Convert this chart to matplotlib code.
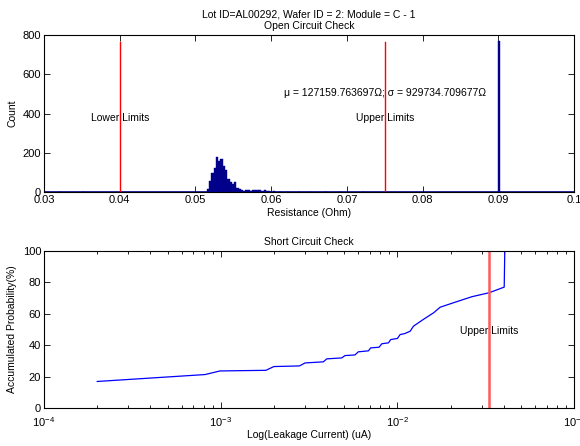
import numpy as np
import matplotlib
matplotlib.use("Agg")
import matplotlib.pyplot as plt
from matplotlib.ticker import LogLocator, NullFormatter

plt.rcParams['font.family'] = ['Liberation Sans', 'DejaVu Sans']

# Open circuit check histogram (bin left edges in Ohm, counts)
bin_width = 0.0003
bin_left = [0.0320, 0.0350, 0.0515, 0.0518, 0.0521, 0.0524, 0.0527, 0.0530,
            0.0533, 0.0536, 0.0539, 0.0542, 0.0545, 0.0548, 0.0551, 0.0554,
            0.0557, 0.0560, 0.0563, 0.0566, 0.0569, 0.0572, 0.0575, 0.0578,
            0.0581, 0.0584, 0.0587, 0.0590, 0.0593, 0.0596, 0.0602, 0.0610,
            0.0620, 0.0635, 0.0650, 0.0670, 0.0690, 0.0720, 0.0899]
counts = [2, 1, 15, 55, 95, 120, 178, 156,
          170, 131, 113, 64, 50, 42, 49, 20,
          15, 10, 6, 8, 8, 5, 8, 12,
          10, 8, 7, 8, 4, 3, 3, 2,
          2, 2, 1, 2, 1, 1, 770]
open_lower = 0.04
open_upper = 0.075
limit_height = 765
stats_text = "\u03bc = 127159.763697\u03a9; \u03c3 = 929734.709677\u03a9"

# Short circuit check cumulative curve
leak_current = [2.0e-4, 8.15e-4, 9.9e-4, 1.80e-3, 2.0e-3, 2.79e-3, 3.0e-3, 3.81e-3,
                3.98e-3, 4.84e-3, 5.05e-3, 5.75e-3, 6.01e-3, 6.85e-3, 7.06e-3, 7.87e-3,
                8.15e-3, 8.89e-3, 9.17e-3, 1.0e-2, 1.036e-2, 1.1e-2, 1.18e-2, 1.232e-2,
                1.40e-2, 1.60e-2, 1.745e-2, 2.07e-2, 2.64e-2, 3.3e-2, 4.02e-2, 4.05e-2]
accum_prob = [16.9, 21.3, 23.6, 24.0, 26.4, 26.8, 28.7, 29.4,
              31.3, 31.9, 33.4, 33.8, 35.8, 36.4, 38.3, 38.7,
              40.9, 41.5, 43.6, 44.3, 46.8, 47.4, 48.9, 52.1,
              56.4, 60.6, 64.2, 67.0, 70.9, 73.4, 77.0, 100.0]
short_upper = 0.033

fig = plt.figure(figsize=(5.8, 4.46), dpi=100)
ax1 = fig.add_axes([0.0759, 0.5695, 0.914, 0.352])
ax2 = fig.add_axes([0.0759, 0.0852, 0.914, 0.352])

navy = '#00008b'

# top: histogram
ax1.axhline(0, color=navy, lw=1.2, zorder=2)
ax1.bar(bin_left, counts, width=bin_width, align='edge', color=navy,
        edgecolor=navy, lw=0.3, zorder=3)
ax1.plot([open_lower, open_lower], [0, limit_height], color='red', lw=1)
ax1.plot([open_upper, open_upper], [0, limit_height], color='red', lw=1)
ax1.text(open_lower, 375, "Lower Limits", ha='center', va='center', fontsize=7.5)
ax1.text(open_upper, 375, "Upper Limits", ha='center', va='center', fontsize=7.5)
ax1.text(open_upper, 505, stats_text, ha='center', va='center', fontsize=7.5)
ax1.set_xlim(0.03, 0.1)
ax1.set_ylim(0, 800)
ax1.set_xticks(np.arange(0.03, 0.1001, 0.01))
ax1.set_xticklabels(["0.03", "0.04", "0.05", "0.06", "0.07", "0.08", "0.09", "0.1"])
ax1.set_yticks([0, 200, 400, 600, 800])
ax1.set_xlabel("Resistance (Ohm)", fontsize=7.5, labelpad=2)
ax1.set_ylabel("Count", fontsize=7.5, labelpad=4)
ax1.set_title("Lot ID=AL00292, Wafer ID = 2: Module = C - 1\nOpen Circuit Check",
              fontsize=7.5, pad=4, linespacing=1.3)

# bottom: cumulative probability
ax2.plot(leak_current, accum_prob, color='blue', lw=0.9)
ax2.plot([short_upper, short_upper], [0, 100], color='#ff5a5a', lw=1.8)
ax2.text(short_upper, 49, "Upper Limits", ha='center', va='center', fontsize=7.5)
ax2.set_xscale('log')
ax2.set_xlim(1e-4, 1e-1)
ax2.set_ylim(0, 100)
ax2.set_yticks([0, 20, 40, 60, 80, 100])
ax2.xaxis.set_major_locator(LogLocator(base=10, numticks=10))
ax2.xaxis.set_minor_locator(LogLocator(base=10, subs=np.arange(2, 10), numticks=10))
ax2.xaxis.set_minor_formatter(NullFormatter())
ax2.set_xlabel("Log(Leakage Current) (uA)", fontsize=7.5, labelpad=1)
ax2.set_ylabel("Accumulated Probability(%)", fontsize=7.5, labelpad=4)
ax2.set_title("Short Circuit Check", fontsize=7.5, pad=4)

for ax in (ax1, ax2):
    ax.tick_params(which='both', direction='in', top=True, right=True,
                   labelsize=8, width=0.6, pad=2)
    ax.tick_params(which='major', length=4)
    ax.tick_params(which='minor', length=2)
    for s in ax.spines.values():
        s.set_linewidth(0.8)
ax2.tick_params(axis='x', which='major', pad=5)

fig.savefig("out.png", dpi=100)
